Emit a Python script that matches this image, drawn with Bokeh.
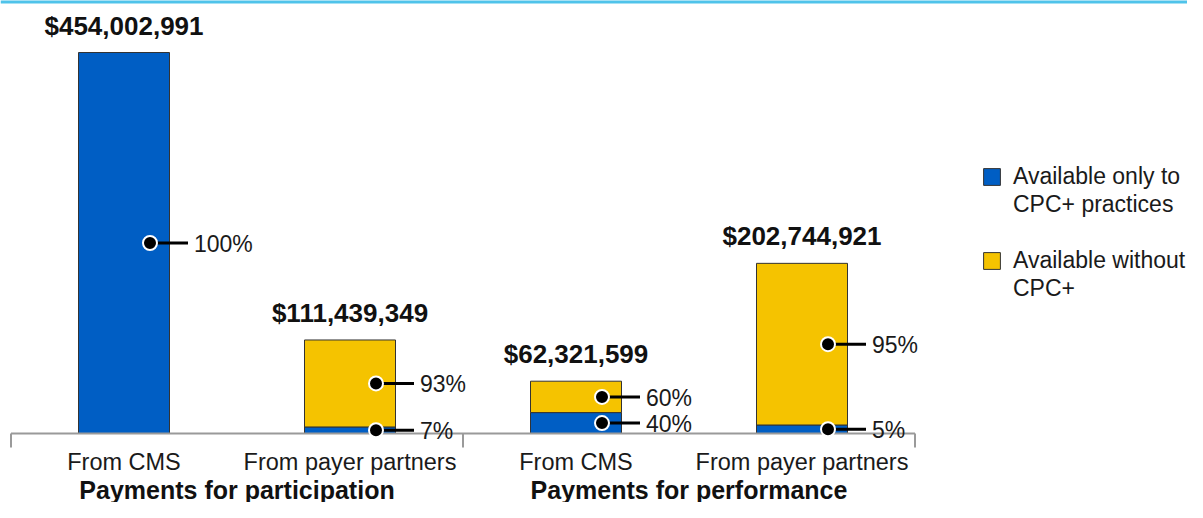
from bokeh.plotting import figure
from bokeh.models import Range1d, Legend, LegendItem, Span
from bokeh.core.properties import value
from bokeh.embed import file_html
from bokeh.resources import INLINE

# ---- data ----
groups = ["Payments for participation", "Payments for performance"]
categories = ["From CMS", "From payer partners", "From CMS", "From payer partners"]
totals = [454002991, 111439349, 62321599, 202744921]
share_cpc_only = [100, 7, 40, 5]
share_without = [0, 93, 60, 95]
series_lines = [["Available only to", "CPC+ practices"], ["Available without", "CPC+"]]
series_colors = ["#005EC4", "#F5C300"]

# ---- layout constants (pixels) ----
W, H = 1187, 502
UNIT = 226.0              # px per category slot
X0 = 10.5                 # px of axis start from figure left
BASE = 433.0              # px of baseline from figure top
K = 381.0 / totals[0]     # px per dollar

FONT_NAME = "Liberation Sans"
FONT = value(FONT_NAME)

p = figure(width=W, height=H, output_backend="svg", toolbar_location=None,
           x_range=Range1d(-X0 / UNIT, (W - X0) / UNIT),
           y_range=Range1d(-(H - BASE) / K, BASE / K),
           min_border=0, outline_line_color=None)
p.axis.visible = False
p.grid.visible = False
p.background_fill_color = "white"
p.border_fill_color = "white"

def px(dx):
    return dx / UNIT

n = len(categories)
xc = [i + 0.5 for i in range(n)]
blue_top = [t * s / 100.0 for t, s in zip(totals, share_cpc_only)]

bar_w = px(91)
blue = p.vbar(x=xc, bottom=0, top=blue_top, width=bar_w,
              fill_color=series_colors[0], line_color="#333333", line_width=1)
ys = [(i, b, t) for i, (b, t, s) in enumerate(zip(blue_top, totals, share_without)) if s > 0]
yel = p.vbar(x=[xc[i] for i, _, _ in ys], bottom=[b for _, b, _ in ys],
             top=[t for _, _, t in ys], width=bar_w,
             fill_color=series_colors[1], line_color="#333333", line_width=1)

# axis line and group ticks
p.segment(x0=[0], y0=[0], x1=[n], y1=[0], line_color="#9a9a9a", line_width=2)
tick_x = [0, 2, 4]
p.segment(x0=tick_x, y0=[0] * 3, x1=tick_x, y1=[-14 / K] * 3,
          line_color="#9a9a9a", line_width=2)

# percentage callouts
lab_x, lab_y, lab_t = [], [], []
for i in range(n):
    if share_cpc_only[i] > 0:
        lab_x.append(xc[i]); lab_y.append(blue_top[i] / 2); lab_t.append(f"{share_cpc_only[i]}%")
    if share_without[i] > 0:
        lab_x.append(xc[i]); lab_y.append((blue_top[i] + totals[i]) / 2); lab_t.append(f"{share_without[i]}%")
p.segment(x0=[x + px(26) for x in lab_x], y0=lab_y, x1=[x + px(64) for x in lab_x], y1=lab_y,
          line_color="black", line_width=3)
p.scatter(x=[x + px(26) for x in lab_x], y=lab_y, size=14, marker="circle",
          fill_color="black", line_color="white", line_width=2)
p.text(x=lab_x, y=lab_y, text=lab_t, x_offset=70, y_offset=1, text_baseline="middle",
       text_align="left", text_font=FONT, text_font_size="23px", text_color="#1a1a1a")

# totals
p.text(x=xc, y=totals, text=[f"${t:,}" for t in totals], y_offset=-27,
       text_baseline="middle", text_align="center", text_font=FONT,
       text_font_size="26px", text_font_style="bold", text_color="#111111")

# category labels
p.text(x=xc, y=[0] * n, text=categories, y_offset=28, text_baseline="middle",
       text_align="center", text_font=FONT, text_font_size="23.5px", text_color="#1a1a1a")
p.text(x=[1, 3], y=[0, 0], text=groups, y_offset=56, text_baseline="middle",
       text_align="center", text_font=FONT, text_font_size="25px",
       text_font_style="bold", text_color="#111111")

# top band
p.add_layout(Span(location=BASE / K, dimension="width", line_color="#4FC3EA", line_width=6))

items = [
    LegendItem(label=series_lines[0][0], renderers=[blue]),
    LegendItem(label=series_lines[0][1], renderers=[]),
    LegendItem(label=" ", renderers=[]),
    LegendItem(label=series_lines[1][0], renderers=[yel]),
    LegendItem(label=series_lines[1][1], renderers=[]),
]
legend = Legend(items=items, location=(981, H - 302), orientation="vertical",
                glyph_width=21, glyph_height=21, label_standoff=11, spacing=0,
                label_height=28, padding=0, margin=0, border_line_color=None,
                background_fill_alpha=0, label_text_font=FONT_NAME,
                label_text_font_size="23px", label_text_color="#1a1a1a")
p.add_layout(legend)

open("out.html", "w").write(file_html(p, INLINE))
